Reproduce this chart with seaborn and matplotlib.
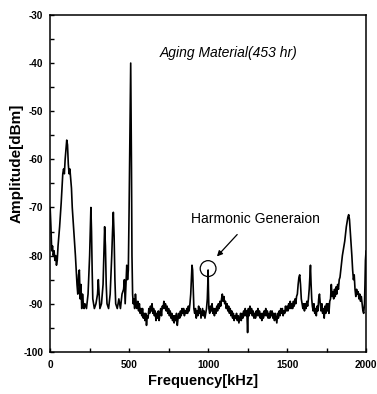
import matplotlib
matplotlib.use("Agg")
import matplotlib.pyplot as plt
import seaborn as sns
import pandas as pd
from matplotlib.ticker import MultipleLocator
from matplotlib.patches import Ellipse

# ---- spectrum, in segments ----
low_freq = [0, 5, 10, 15, 20, 25, 30, 35, 40, 45, 50, 60, 70, 80, 85, 90, 95, 100, 105, 110,
            115, 120, 125, 130, 135, 140, 150, 160, 170, 175, 180, 185, 190, 195, 200, 205, 210,
            215, 220, 230, 240, 250, 255, 258, 262, 266, 270, 280, 290, 300, 305, 310, 315, 325,
            335, 340, 345, 350, 355, 360, 370, 380, 390, 395, 400, 405, 410, 415, 425, 435, 445,
            455, 465, 470, 475, 480, 485, 490, 495, 500, 505, 508, 510, 512, 515, 518, 522, 526]
low_amp = [-70, -74, -79, -78, -80, -79, -81, -80, -82, -81, -78, -74, -69, -63, -62, -63, -60, -58, -56, -57,
           -61, -63, -62, -64, -66, -70, -75, -80, -86, -88, -84, -83, -89, -86, -91, -88, -90,
           -91, -90, -91, -88, -80, -74, -70, -75, -83, -89, -91, -90, -88, -85, -88, -91, -90,
           -86, -80, -74, -78, -86, -90, -91, -88, -80, -75, -71, -76, -85, -90, -91, -89, -91,
           -88, -87, -85, -90, -86, -82, -85, -83, -70, -55, -45, -40, -48, -62, -80, -88, -90]

base1_freq = list(range(530, 890, 5))
base1_amp = [-89, -91, -88, -90, -91, -89.5, -91.5, -90, -92, -91,
             -92.5, -91, -93, -92, -93.5, -92, -94.5, -92.5, -93, -91,
             -92, -90.5, -91.5, -90, -92, -91, -92.5, -91.5, -93.5, -92,
             -93, -91.5, -93.5, -92, -91, -92.5, -90.5, -91, -89.5, -91,
             -90, -91.5, -90.5, -92, -91, -92.5, -91.5, -93, -92, -93.5,
             -92.5, -94, -92.5, -93.5, -92, -94.5, -93, -92, -93, -91.5,
             -92.5, -91, -92, -91, -92.5, -91.5, -92, -91, -92, -90.5,
             -91.5, -90]

peak900_freq = [890, 895, 898, 902, 906, 910]
peak900_amp = [-88, -84, -82, -83, -87, -91]

base2_freq = list(range(915, 995, 5))
base2_amp = [-92, -91, -93, -91.5, -92.5, -90.5, -92, -91, -93, -92,
             -91, -92.5, -91.5, -93, -92, -91]

peak1000_freq = [995, 998, 1000, 1002, 1005]
peak1000_amp = [-89, -86, -83, -87, -91]

base3_freq = list(range(1010, 1575, 5))
base3_amp = [-92, -90.5, -91.5, -90, -92, -91, -92.5, -91, -92, -90.5,
             -91.5, -90, -91, -89.5, -90.5, -89, -88, -89.5, -88.5, -90,
             -89.5, -91, -90, -91.5, -90.5, -92, -91, -92.5, -91.5, -93,
             -92, -93.5, -92.5, -93, -92, -93.5, -92.5, -94, -93, -92,
             -93.5, -92, -93, -91.5, -92.5, -91, -92.5, -91.5, -96, -91,
             -92.5, -90.5, -92, -91, -92.5, -91.5, -93, -92, -93, -91.5,
             -92.5, -91, -92.5, -91.5, -93, -92, -93.5, -92, -93, -91.5,
             -92.5, -91, -92.5, -91.5, -93, -92, -93, -91.5, -92.5, -91.5,
             -93, -92, -93.5, -92, -93, -94, -92, -93, -91.5, -92.5,
             -91, -92, -91, -92.5, -91.5, -92, -90.5, -91.5, -90.5, -91.5,
             -90, -91, -89.5, -91, -90, -91, -89.5, -90.5, -89, -90,
             -88.5, -88, -86]

peak1600_freq = [1575, 1580, 1585, 1590, 1595, 1600, 1605, 1610, 1615, 1620, 1625, 1630,
                 1635, 1640, 1645, 1648, 1652, 1656]
peak1600_amp = [-84.5, -84, -86, -89, -90, -91, -90, -91.5, -90, -91, -89.5, -90.5,
                -89, -87, -84, -82, -86, -89]

base4_freq = list(range(1660, 1860, 5))
base4_amp = [-90.5, -91.5, -90, -92, -91, -92.5, -90.5, -91.5, -89, -88,
             -90, -91.5, -90, -92, -91, -93, -90.5, -92, -90, -91.5,
             -90, -92, -89.5, -89, -86, -88.5, -87.5, -89, -87, -88.5,
             -86.5, -88, -86, -87, -85, -84.5, -83, -81.5, -80, -79]

high_freq = [1860, 1865, 1870, 1875, 1880, 1885, 1890, 1895, 1900, 1905, 1910, 1915, 1920,
             1925, 1930, 1935, 1940, 1945, 1950, 1955, 1960, 1965, 1970, 1975, 1980, 1985,
             1990, 1993, 1996, 2000]
high_amp = [-78, -77, -75.5, -74, -73, -72, -71.5, -72.5, -75, -77.5, -80, -83, -85,
            -84, -87, -88.5, -87, -88, -87.5, -89, -88, -89.5, -88.5, -90, -91.5, -92,
            -90, -86, -81, -79]

title_text = "Aging Material(453 hr)"
annot_text = "Harmonic Generaion"
x_label = "Frequency[kHz]"
y_label = "Amplitude[dBm]"

freq = (low_freq + base1_freq + peak900_freq + base2_freq + peak1000_freq + base3_freq
        + peak1600_freq + base4_freq + high_freq)
amplitude = (low_amp + base1_amp + peak900_amp + base2_amp + peak1000_amp + base3_amp
             + peak1600_amp + base4_amp + high_amp)

df = pd.DataFrame({"freq": freq, "amp": amplitude})

sns.set_style("ticks")
plt.rcParams["font.family"] = ["Liberation Sans", "DejaVu Sans"]
plt.rcParams["axes.unicode_minus"] = False
for k in ["text.color", "axes.labelcolor", "xtick.color", "ytick.color", "axes.edgecolor"]:
    plt.rcParams[k] = "black"

fig = plt.figure(figsize=(3.77, 3.94), dpi=100)
ax = fig.add_axes([0.133, 0.107, 0.838, 0.855])
sns.lineplot(data=df, x="freq", y="amp", color="black", linewidth=1.2, ax=ax, sort=False)

ax.set_xlim(0, 2000)
ax.set_ylim(-100, -30)
ax.xaxis.set_major_locator(MultipleLocator(500))
ax.xaxis.set_minor_locator(MultipleLocator(250))
ax.yaxis.set_major_locator(MultipleLocator(10))
ax.yaxis.set_minor_locator(MultipleLocator(5))
ax.tick_params(which="both", direction="in", length=3, width=1.0, labelsize=7.2,
               top=False, right=False)
ax.tick_params(axis="x", pad=6)
ax.tick_params(axis="y", pad=5)
for lab in ax.get_xticklabels() + ax.get_yticklabels():
    lab.set_fontweight("bold")
for s in ax.spines.values():
    s.set_visible(True)
    s.set_linewidth(1.1)

ax.set_xlabel(x_label, fontsize=10.5, fontweight="bold")
ax.xaxis.set_label_coords(0.485, -0.066)
ax.set_ylabel(y_label, fontsize=11, fontweight="bold")
ax.yaxis.set_label_coords(-0.083, 0.56)

ax.text(1127, -38, title_text, fontsize=10, style="italic", ha="center", va="center")
ax.text(1300, -72.3, annot_text, fontsize=10, ha="center", va="center")
ax.annotate("", xy=(1044, -80.6), xytext=(1196, -75.2),
            arrowprops=dict(arrowstyle="-|>", color="black", lw=0.9, mutation_scale=8))
ax.add_patch(Ellipse((1000, -82.7), width=100, height=3.3, fill=False, edgecolor="black", lw=0.9))

fig.savefig("out.png", dpi=100)
